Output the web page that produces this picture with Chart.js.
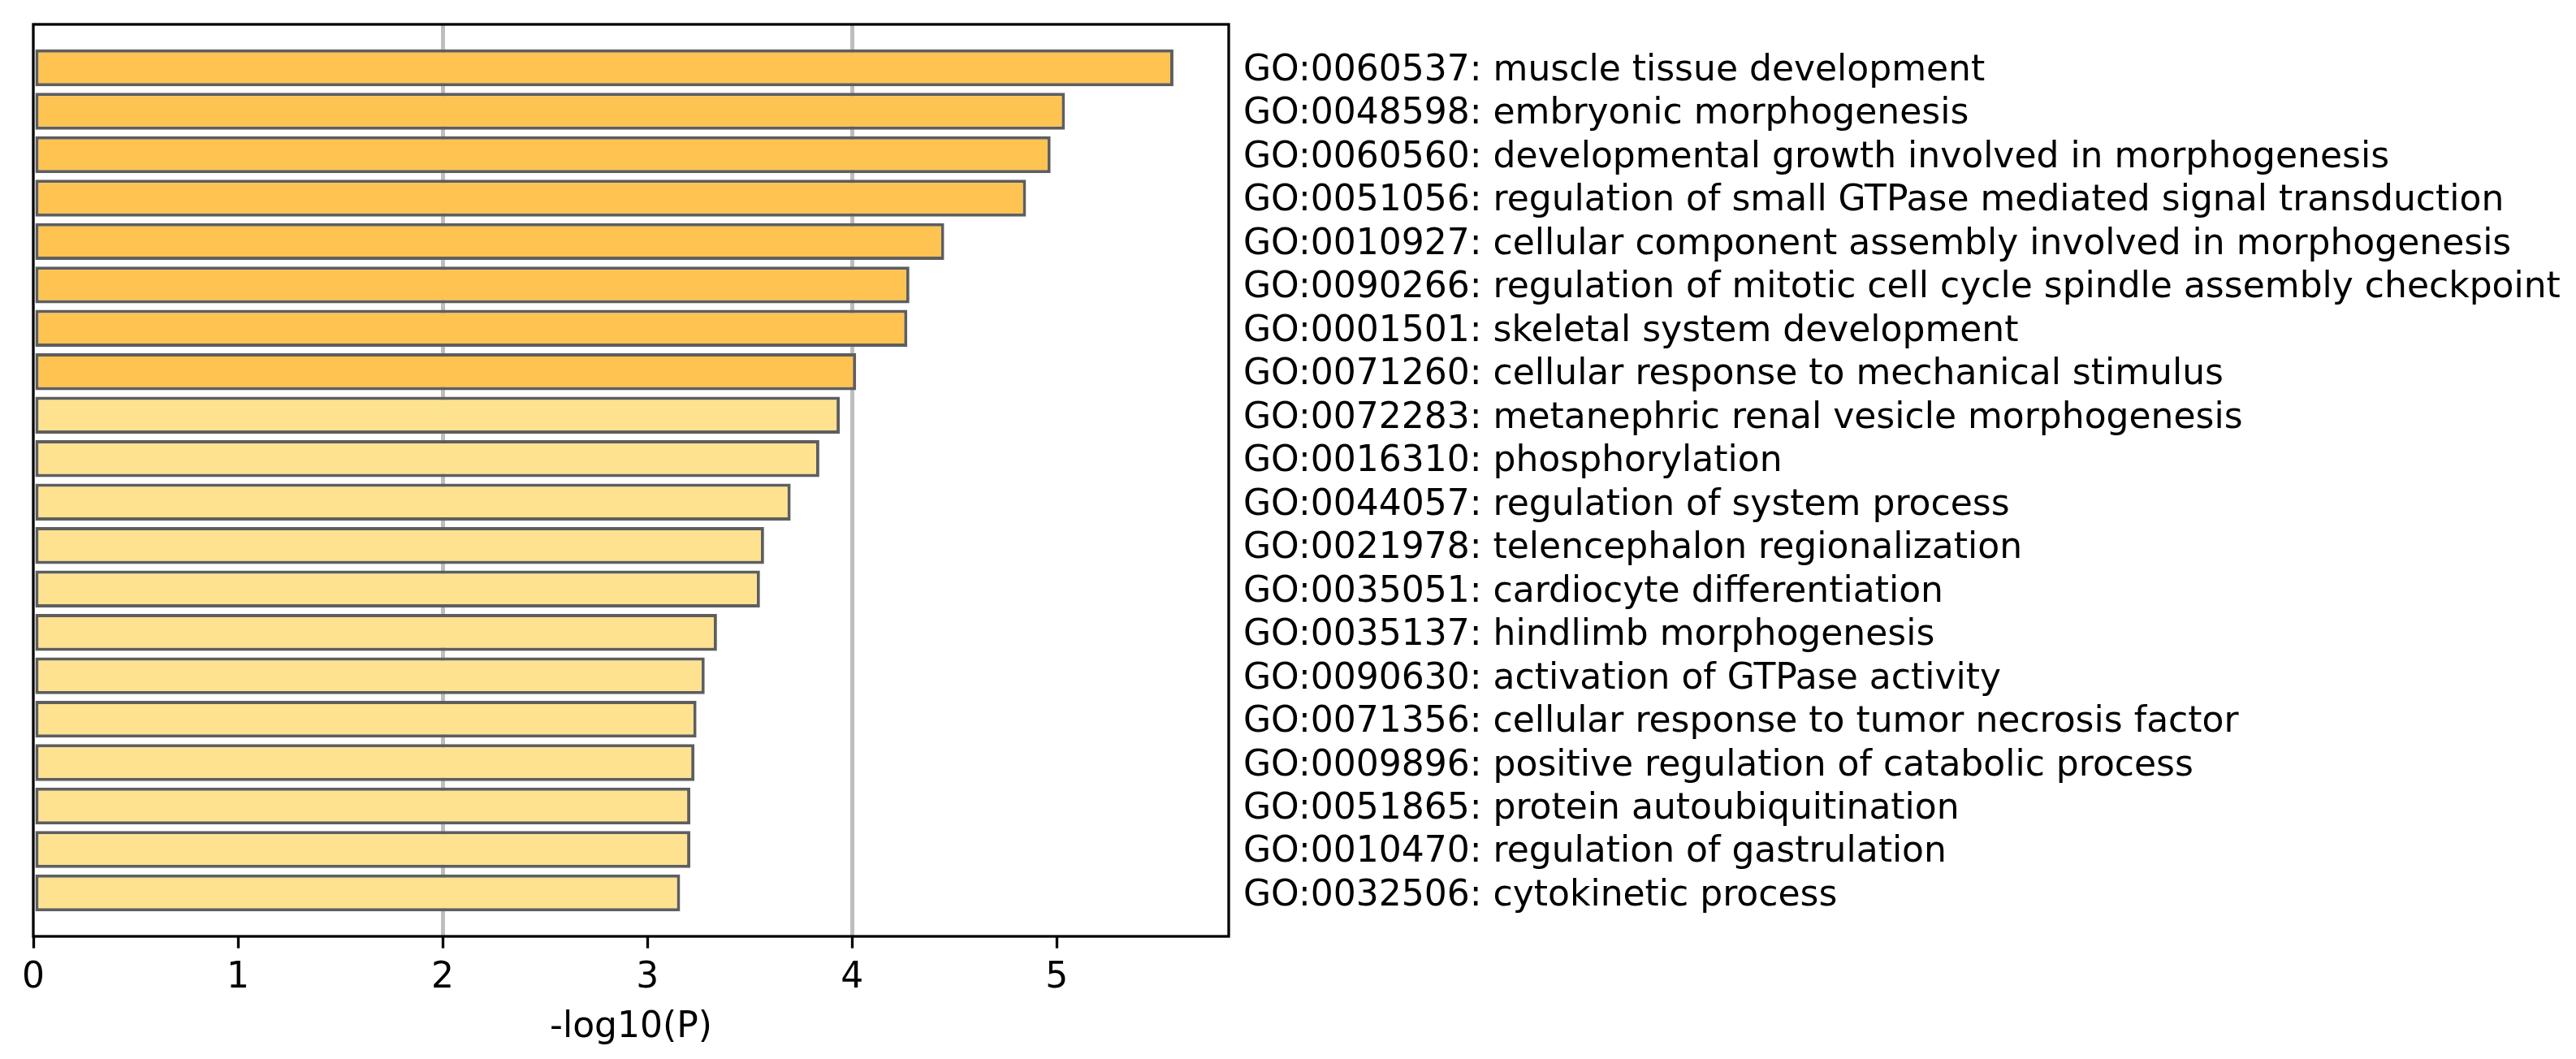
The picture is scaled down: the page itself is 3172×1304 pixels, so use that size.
<!DOCTYPE html>
<html>
<head>
<meta charset="utf-8">
<script src="https://cdn.jsdelivr.net/npm/chart.js@4.4.1/dist/chart.umd.min.js"></script>
<style>
  html, body { margin: 0; padding: 0; background: #fff; }
  #wrap { width: 3172px; height: 1304px; position: relative; }
</style>
</head>
<body>
<div id="wrap"><canvas id="myChart"></canvas></div>
<script>
const terms = [
  'GO:0060537: muscle tissue development',
  'GO:0048598: embryonic morphogenesis',
  'GO:0060560: developmental growth involved in morphogenesis',
  'GO:0051056: regulation of small GTPase mediated signal transduction',
  'GO:0010927: cellular component assembly involved in morphogenesis',
  'GO:0090266: regulation of mitotic cell cycle spindle assembly checkpoint',
  'GO:0001501: skeletal system development',
  'GO:0071260: cellular response to mechanical stimulus',
  'GO:0072283: metanephric renal vesicle morphogenesis',
  'GO:0016310: phosphorylation',
  'GO:0044057: regulation of system process',
  'GO:0021978: telencephalon regionalization',
  'GO:0035051: cardiocyte differentiation',
  'GO:0035137: hindlimb morphogenesis',
  'GO:0090630: activation of GTPase activity',
  'GO:0071356: cellular response to tumor necrosis factor',
  'GO:0009896: positive regulation of catabolic process',
  'GO:0051865: protein autoubiquitination',
  'GO:0010470: regulation of gastrulation',
  'GO:0032506: cytokinetic process'
];
const logP = [5.57, 5.04, 4.97, 4.85, 4.45, 4.28, 4.27, 4.02, 3.94, 3.84,
              3.70, 3.57, 3.55, 3.34, 3.28, 3.24, 3.23, 3.21, 3.21, 3.16];
const xTicks = [0, 1, 2, 3, 4, 5];
const gridAt = [2, 4];

const ctx = document.getElementById('myChart').getContext('2d');

const points = logP.map(function(v, i){
  return {x: v, y: i};
});
const colors = logP.map(function(v){
  return v >= 4 ? '#fec350' : '#ffe28f';
});

// frame around the plot area like matplotlib spines
const frame = {
  id: 'frame',
  afterDraw(chart){
    const a = chart.chartArea;
    const c = chart.ctx;
    c.save();
    c.strokeStyle = '#000';
    c.lineWidth = 3.3;
    c.strokeRect(a.left, a.top, a.right - a.left, a.bottom - a.top);
    c.restore();
  }
};

Chart.defaults.font.family = 'DejaVu Sans';
Chart.defaults.color = '#000';

const myChart = new Chart(ctx, {
  type: 'bar',
  data: {
    datasets: [{
      data: points,
      backgroundColor: colors,
      borderColor: '#5e5e5e',
      borderWidth: 4,
      borderSkipped: false,
      barPercentage: 1,
      categoryPercentage: 0.85
    }]
  },
  plugins: [frame],
  options: {
    indexAxis: 'y',
    responsive: true,
    maintainAspectRatio: false,
    animation: false,
    layout: { padding: { left: 41, top: 30, right: 0, bottom: 0 } },
    plugins: {
      legend: { display: false },
      tooltip: { enabled: false }
    },
    scales: {
      x: {
        type: 'linear',
        position: 'bottom',
        min: 0,
        max: 5.84,
        afterBuildTicks: function(scale){
          scale.ticks = xTicks.map(function(v){ return {value: v}; });
        },
        afterFit: function(scale){
          scale.height = 151;
        },
        grid: {
          color: function(c){
            return gridAt.indexOf(c.tick.value) >= 0 ? '#bebebe' : 'rgba(0,0,0,0)';
          },
          lineWidth: 5,
          tickColor: '#000',
          tickWidth: 3.3,
          tickLength: 14.6
        },
        border: { display: false },
        ticks: {
          font: { size: 44 },
          padding: 11,
          maxRotation: 0
        },
        title: {
          display: true,
          text: '-log10(P)',
          font: { size: 44 },
          padding: { top: 0, bottom: 12 }
        }
      },
      y: {
        type: 'linear',
        position: 'right',
        reverse: true,
        offset: false,
        min: -1,
        max: 20,
        afterBuildTicks: function(scale){
          scale.ticks = terms.map(function(t, i){ return {value: i}; });
        },
        afterFit: function(scale){
          scale.width = 3172 - 1513;
          scale.paddingTop = 0;
          scale.paddingBottom = 0;
        },
        grid: { display: false },
        border: { display: false },
        ticks: {
          font: { size: 44 },
          padding: 10,
          labelOffset: 4,
          autoSkip: false,
          callback: function(v){
            return terms[v];
          }
        }
      }
    }
  }
});
</script>
</body>
</html>
